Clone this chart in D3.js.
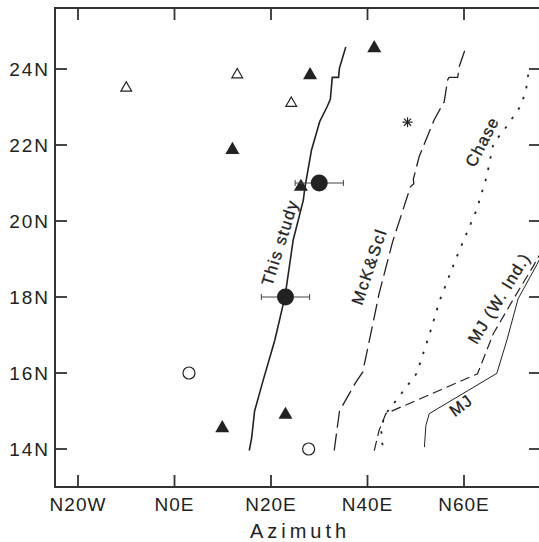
<!DOCTYPE html>
<html><head><meta charset="utf-8">
<script src="https://cdn.jsdelivr.net/npm/d3@7"></script>
<style>body{margin:0;background:#fff;} svg{display:block;}</style>
</head><body>
<script>
// ---- data ----
const xTicks = [-20, 0, 20, 40, 60];
const xTickLabels = ["N20W", "N0E", "N20E", "N40E", "N60E"];
const yTicks = [14, 16, 18, 20, 22, 24];
const yTickLabels = ["14N", "16N", "18N", "20N", "22N", "24N"];

const thisStudy = [[15.5,13.96],[16.0,14.3],[16.6,15.0],[18.4,15.82],[20.8,16.87],[22.9,18.01],[24.6,19.5],[26.7,20.55],[27.05,20.9],[28.4,21.87],[30.1,22.62],[31.6,23.0],[32.3,23.2],[32.7,23.78],[34.0,23.78],[34.2,24.03],[35.5,24.58]];
const mckScl = [[33.1,13.96],[34.2,15.0],[37.6,15.76],[39.0,16.02],[41.4,17.47],[42.4,18.09],[45.2,19.45],[48.9,20.9],[49.6,20.98],[49.5,21.1],[50.7,21.69],[53.8,22.66],[55.9,23.14],[56.6,23.71],[56.9,23.78],[58.7,23.78],[59.0,24.06],[60.4,24.58]];
const chase = [[43.1,14.1],[42.8,14.57],[43.8,14.93],[46.0,15.29],[50.2,15.99],[52.9,17.04],[55.0,17.92],[58.5,19.06],[62.6,20.29],[64.7,21.17],[66.1,22.04],[68.8,22.48],[71.6,23.0],[72.8,23.4],[73.3,23.85]];
const mjWInd = [[41.4,13.96],[42.4,14.49],[43.8,14.93],[62.8,15.98],[66.1,17.04],[70.5,18.0],[74.3,18.8],[76.5,19.3]];
const mj = [[51.8,14.05],[52.1,14.62],[52.8,14.93],[66.8,15.99],[68.9,16.87],[71.2,17.95],[75.1,18.85],[76.5,19.2]];

const openTriangles = [[-10,23.5],[13,23.85],[24.2,23.1]];
const filledTriangles = [[12,21.87],[28.1,23.84],[41.4,24.55],[26.2,20.9],[9.9,14.55],[23,14.9]];
const openCircles = [[3,16.0],[27.8,14.0]];
const filledCircles = [[30,21.0],[23,18.0]];
const filledCircleErr = [5, 5];
const asterisks = [[48.3,22.6]];

const lineLabels = [
  {text:"This study", x:22.1, y:19.42, angle:-72.5, ls:1.4},
  {text:"McK&Scl", x:40.6, y:18.79, angle:-71.5, ls:1.8},
  {text:"Chase", x:64.0, y:22.07, angle:-62.7, ls:1.2},
  {text:"MJ (W. Ind.)", x:67.5, y:17.95, angle:-58.3, ls:1.2},
  {text:"MJ", x:59.5, y:15.12, angle:-37, ls:1}
];

// ---- layout ----
const W = 539, H = 542;
const svg = d3.select("body").append("svg").attr("width", W).attr("height", H);
const x = d3.scaleLinear().domain([-20, 60]).range([78, 464]);
const y = d3.scaleLinear().domain([14, 24]).range([449, 69]);
const L = 55, T = 8, R = 541, B = 487;
const ink = "#222";

// frame
svg.append("rect").attr("x", L).attr("y", T).attr("width", R - L).attr("height", B - T)
  .attr("fill", "none").attr("stroke", "#333").attr("stroke-width", 2);

// ticks (inward)
const tk = 12;
const tg = svg.append("g").attr("stroke", "#333").attr("stroke-width", 1.8);
xTicks.forEach(v => {
  tg.append("line").attr("x1", x(v)).attr("x2", x(v)).attr("y1", B).attr("y2", B - tk);
  tg.append("line").attr("x1", x(v)).attr("x2", x(v)).attr("y1", T).attr("y2", T + tk);
});
yTicks.forEach(v => {
  tg.append("line").attr("y1", y(v)).attr("y2", y(v)).attr("x1", L).attr("x2", L + tk);
  tg.append("line").attr("y1", y(v)).attr("y2", y(v)).attr("x1", R).attr("x2", R - tk);
});

const tickFont = "'Liberation Sans', Arial, sans-serif";
xTicks.forEach((v, i) => {
  svg.append("text").attr("x", x(v)).attr("y", 511).attr("text-anchor", "middle")
    .attr("font-family", tickFont).attr("font-size", 19).attr("letter-spacing", 1)
    .attr("fill", ink).text(xTickLabels[i]);
});
yTicks.forEach((v, i) => {
  svg.append("text").attr("x", 50).attr("y", y(v) + 7).attr("text-anchor", "end")
    .attr("font-family", tickFont).attr("font-size", 19).attr("letter-spacing", 2)
    .attr("fill", ink).text(yTickLabels[i]);
});
svg.append("text").attr("x", 300).attr("y", 538).attr("text-anchor", "middle")
  .attr("font-family", tickFont).attr("font-size", 20).attr("letter-spacing", 4)
  .attr("fill", ink).text("Azimuth");

// lines
const line = d3.line().x(d => x(d[0])).y(d => y(d[1]));
svg.append("clipPath").attr("id", "c").append("rect")
  .attr("x", L).attr("y", T).attr("width", R - L).attr("height", B - T);
const lg = svg.append("g").attr("clip-path", "url(#c)").attr("fill", "none").attr("stroke", ink);
lg.append("path").attr("d", line(thisStudy)).attr("stroke-width", 1.6);
lg.append("path").attr("d", line(mckScl)).attr("stroke-width", 1.3).attr("stroke-dasharray", "17,6");
lg.append("path").attr("d", line(chase)).attr("stroke-width", 1.8).attr("stroke-dasharray", "2.5,9");
lg.append("path").attr("d", line(mjWInd)).attr("stroke-width", 1.2).attr("stroke-dasharray", "10,5");
lg.append("path").attr("d", line(mj)).attr("stroke-width", 1.0);

// markers
svg.selectAll(".ot").data(openTriangles).join("path")
  .attr("d", d3.symbol().type(d3.symbolTriangle).size(50)()).attr("transform", d => `translate(${x(d[0])},${y(d[1])})`)
  .attr("fill", "#fff").attr("stroke", ink).attr("stroke-width", 1.2);
svg.selectAll(".ft").data(filledTriangles).join("path")
  .attr("d", d3.symbol().type(d3.symbolTriangle).size(85)()).attr("transform", d => `translate(${x(d[0])},${y(d[1])})`)
  .attr("fill", ink);
svg.selectAll(".oc").data(openCircles).join("circle")
  .attr("cx", d => x(d[0])).attr("cy", d => y(d[1])).attr("r", 6)
  .attr("fill", "#fff").attr("stroke", ink).attr("stroke-width", 1.2);
const eg = svg.append("g").attr("stroke", "#444").attr("stroke-width", 1);
filledCircles.forEach((d, i) => {
  const e = filledCircleErr[i];
  eg.append("line").attr("x1", x(d[0] - e)).attr("x2", x(d[0] + e)).attr("y1", y(d[1])).attr("y2", y(d[1]));
  [d[0] - e, d[0] + e].forEach(v => eg.append("line").attr("x1", x(v)).attr("x2", x(v)).attr("y1", y(d[1]) - 3).attr("y2", y(d[1]) + 3));
});
svg.selectAll(".fc").data(filledCircles).join("circle")
  .attr("cx", d => x(d[0])).attr("cy", d => y(d[1])).attr("r", 8.5).attr("fill", ink);
asterisks.forEach(d => {
  const g = svg.append("g").attr("transform", `translate(${x(d[0])},${y(d[1])})`).attr("stroke", ink).attr("stroke-width", 1.2);
  [0, 45, 90, 135].forEach(a => {
    const r = 5, c = Math.cos(a * Math.PI / 180) * r, s = Math.sin(a * Math.PI / 180) * r;
    g.append("line").attr("x1", -c).attr("y1", -s).attr("x2", c).attr("y2", s);
  });
});

// line labels
lineLabels.forEach(l => {
  svg.append("text").attr("transform", `translate(${x(l.x)},${y(l.y)}) rotate(${l.angle})`)
    .attr("text-anchor", "middle").attr("dominant-baseline", "middle")
    .attr("font-family", "'Liberation Sans', Arial, sans-serif").attr("font-size", 16.5)
    .attr("stroke", ink).attr("stroke-width", 0.3)
    .attr("letter-spacing", l.ls).attr("fill", ink).text(l.text);
});
</script>
</body></html>
